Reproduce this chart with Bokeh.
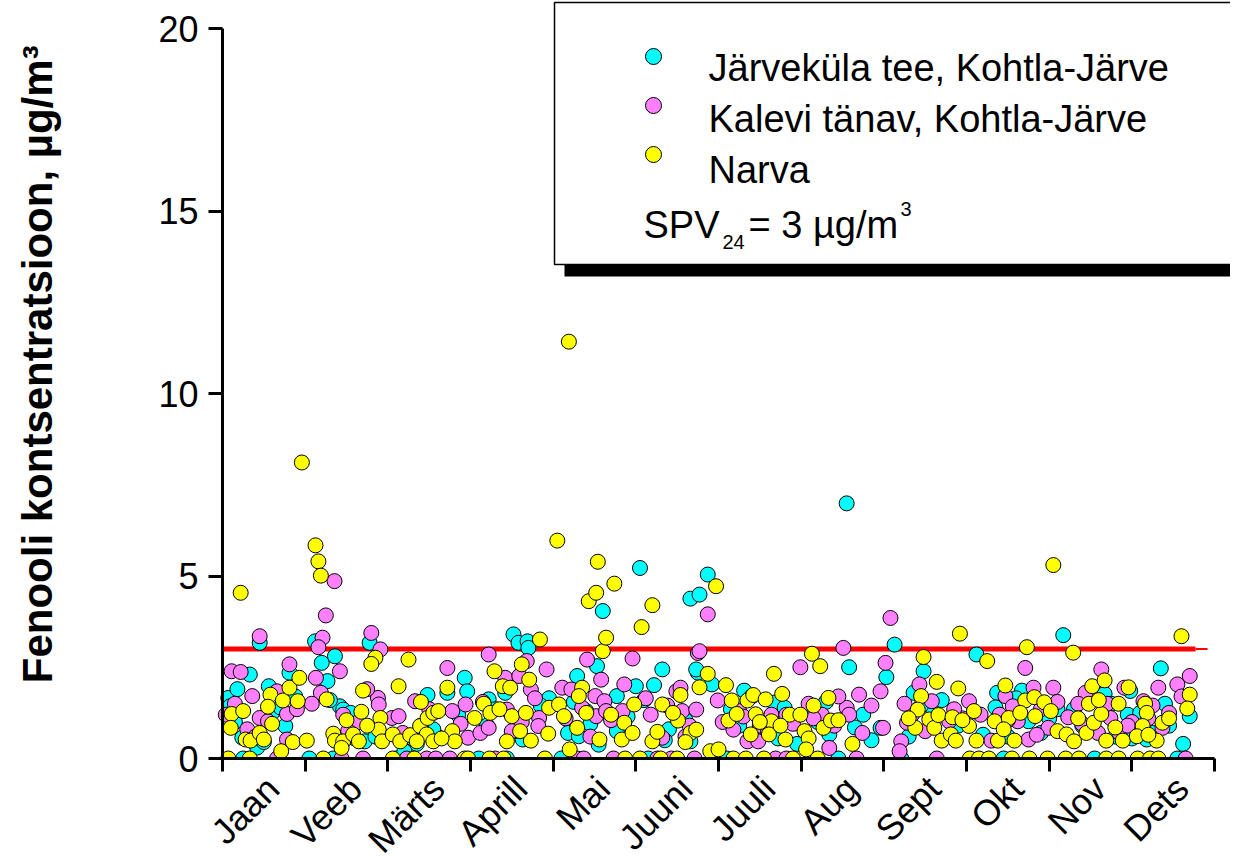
import math
from bokeh.plotting import figure
from bokeh.models import Range1d, FixedTicker, CustomJSTickFormatter
from bokeh.embed import file_html
from bokeh.resources import INLINE
from bokeh.core.properties import value

# ---------------- data ----------------
months = ["Jaan", "Veeb", "Märts", "Aprill", "Mai", "Juuni",
          "Juuli", "Aug", "Sept", "Okt", "Nov", "Dets"]
y_ticks = [0, 5, 10, 15, 20]
spv_limit = 3
series_names = ["Järveküla tee, Kohtla-Järve", "Kalevi tänav, Kohtla-Järve", "Narva"]

# time position in months (0 = start of January), concentration in µg/m3
jarv_t = [0.33, 0.07, 0.09, 0.24, 0.56, 0.76, 0.81, 0.45, 0.25, 0.6, 0.15, 0.42, 0.7, 0.18, 0.5, 0.88,
          1.12, 1.36, 1.2, 1.27, 1.42, 1.46, 1.72, 1.78, 1.34, 1.6, 1.05, 1.3, 1.55, 1.85,
          2.48, 2.35, 2.72, 2.93, 2.96, 2.2, 2.6, 2.1, 2.3, 2.55, 2.85,
          3.22, 3.42, 3.52, 3.58, 3.69, 3.7, 3.63, 3.95, 3.44, 3.2, 3.1, 3.3, 3.55, 3.85,
          4.18, 4.31, 4.29, 4.53, 4.6, 4.55, 4.77, 4.77, 5.0, 4.4, 4.1, 4.25, 4.45, 4.9,
          5.05, 5.32, 5.22, 5.49, 5.66, 5.66, 5.77, 5.87, 5.75, 5.73, 5.92, 5.15, 5.4, 5.1, 5.35, 5.6,
          6.31, 6.67, 6.59, 6.8, 6.25, 6.45, 6.1, 6.95, 6.15, 6.4, 6.72,
          7.34, 7.58, 7.75, 7.55, 7.45, 7.96, 7.2, 7.65, 7.1, 7.3, 7.85,
          8.03, 8.13, 8.36, 8.48, 8.21, 9.12, 8.6, 8.9, 8.3, 8.45, 8.7, 9.2,
          9.37, 9.67, 9.75, 10.17, 10.1, 9.5, 9.9, 9.45, 9.35, 9.6, 10.0,
          10.67, 10.95, 10.55, 10.4, 10.8, 11.0, 10.3, 10.75, 10.98,
          11.18, 11.35, 11.7, 11.55, 11.25, 11.45, 11.1, 11.4, 11.62]
jarv_v = [2.3, 1.66, 1.43, 0.57, 1.98, 0.89, 2.35, 3.17, 0, 1.25, 1.0, 0.3, 1.4, 1.9, 0.45, 1.7,
          3.21, 2.8, 2.62, 2.12, 1.43, 1.34, 0.47, 3.17, 0, 0.55, 0, 1.6, 1.25, 0.6,
          1.74, 0.4, 1.8, 2.21, 1.84, 0.2, 0.6, 0, 0.55, 0.8, 1.2,
          1.62, 1.8, 3.4, 3.17, 3.21, 3.03, 0.52, 1.65, 0, 0.9, 0, 1.35, 0.75, 1.45,
          0.7, 0.61, 2.26, 2.53, 4.04, 0.38, 1.71, 0.75, 1.98, 1.3, 0, 1.55, 0.95, 1.15,
          5.22, 2.44, 2.01, 1.2, 0.47, 4.38, 4.49, 5.04, 2.35, 2.44, 2.03, 0, 0.8, 1.6, 0.5, 1.05,
          1.86, 1.53, 0.89, 1.39, 0.9, 0.6, 0, 0.4, 1.35, 1.7, 0.55,
          0.66, 2.5, 1.2, 6.99, 0, 0.84, 1.0, 0.85, 1.3, 1.55, 0.5,
          2.23, 3.12, 1.8, 2.39, 0, 2.85, 1.3, 0.9, 0.6, 1.45, 1.6, 0.65,
          1.8, 1.86, 1.02, 3.38, 1.35, 0.6, 0.7, 0, 1.4, 1.65, 1.1,
          1.77, 1.2, 0, 0.9, 0.6, 0.55, 1.35, 1.5, 1.85,
          0.52, 2.47, 1.16, 0, 0.7, 0.9, 1.25, 1.5, 0.4]

kalevi_t = [0.11, 0.22, 0.04, 0.36, 0.45, 0.55, 0.66, 0.78, 0.78, 0.81, 0.45, 0.66, 0.3, 0.15, 0.4, 0.9,
            1.21, 1.16, 1.42, 1.13, 1.19, 1.46, 1.63, 1.8, 1.91, 1.88, 1.89, 1.355, 1.25, 1.44, 1.7, 1.08, 1.52, 1.75,
            2.05, 2.13, 2.33, 2.72, 2.78, 2.94, 2.97, 2.23, 2.47, 2.58, 2.75, 2.4, 2.18, 2.5, 2.88,
            3.12, 3.22, 3.22, 3.42, 3.44, 3.5, 3.68, 3.59, 3.73, 3.83, 3.92, 3.82, 3.3, 3.15, 3.62, 3.78,
            4.11, 4.22, 4.35, 4.41, 4.58, 4.51, 4.62, 4.52, 4.64, 4.86, 4.84, 4.96, 4.29, 4.37, 4.73, 4.15, 4.45, 4.7,
            5.18, 5.32, 5.49, 5.56, 5.75, 5.77, 5.54, 5.73, 5.87, 5.26, 5.43, 5.71, 5.6, 5.12, 5.38, 5.65,
            5.99, 6.18, 6.35, 6.48, 6.64, 6.82, 6.25, 6.69, 6.82, 6.5, 6.05, 6.3, 6.6, 6.9,
            6.99, 7.09, 7.25, 7.34, 7.51, 7.55, 7.58, 7.7, 7.74, 7.67, 7.4, 7.15, 7.45, 7.85,
            7.99, 7.96, 8.02, 8.08, 8.28, 8.21, 8.19, 8.43, 8.34, 8.58, 8.79, 9.03, 9.17, 8.64, 8.95, 8.25, 8.5, 8.85,
            9.3, 9.47, 9.56, 9.62, 9.71, 9.81, 9.75, 10.05, 9.99, 9.4, 9.9, 9.5, 9.85, 10.1,
            10.23, 10.44, 10.63, 10.59, 10.74, 10.91, 10.85, 10.35, 11.0, 10.4, 10.7, 10.95,
            11.14, 11.37, 11.32, 11.55, 11.7, 11.65, 11.2, 11.25, 11.45, 11.6]
kalevi_v = [2.39, 2.37, 1.2, 1.71, 1.11, 1.02, 1.84, 1.22, 0.52, 2.58, 3.35, 0, 0.8, 1.5, 0.6, 1.35,
            3.31, 3.05, 2.39, 2.21, 1.8, 1.2, 0.98, 3.44, 2.99, 1.66, 1.48, 4.86, 3.92, 0, 0, 1.5, 0.75, 1.9,
            1.11, 1.16, 1.57, 2.48, 1.3, 1.48, 0.57, 0, 0, 0, 0, 0.9, 0.7, 1.35, 0.95,
            0.7, 2.85, 0.84, 2.21, 1.34, 0.75, 2.67, 2.26, 1.89, 1.11, 2.44, 0.89, 0, 1.55, 1.0, 1.65,
            1.94, 1.89, 1.39, 2.71, 2.16, 1.71, 1.57, 1.16, 1.3, 2.03, 1.3, 2.74, 0, 0, 0, 1.1, 0.6, 1.05,
            1.2, 0.57, 1.84, 1.3, 2.89, 2.94, 1.94, 1.34, 3.95, 0, 0, 0, 0.6, 1.65, 1.45, 0.9,
            1.59, 0.79, 0.47, 0.47, 1.2, 1.2, 1.3, 0, 0, 0.9, 1.0, 1.15, 0.75, 0.95,
            2.5, 1.5, 1.2, 0.29, 3.03, 1.39, 1.2, 1.75, 0.7, 0, 0.9, 1.1, 1.7, 1.45,
            0.84, 1.84, 2.62, 3.85, 0.98, 0.47, 0.2, 2.03, 1.2, 1.57, 1.02, 1.57, 1.2, 0, 1.1, 1.5, 0.75, 1.35,
            0.49, 1.71, 1.43, 1.02, 2.48, 1.94, 0.52, 1.94, 0.84, 1.2, 1.35, 1.05, 0.65, 1.55,
            1.13, 1.8, 2.44, 0.7, 1.11, 1.94, 0.7, 1.5, 1.0, 0.95, 1.5, 0.9,
            1.57, 0.84, 1.94, 2.03, 2.26, 0, 1.1, 1.45, 1.25, 1.7]

narva_t = [0.22, 0.11, 0.25, 0.1, 0.28, 0.34, 0.58, 0.55, 0.45, 0.5, 0.73, 0.71, 0.81, 0.93, 0.91, 0.07, 0.33, 0.96, 0.6, 0.85,
           1.02, 1.125, 1.16, 1.19, 1.26, 1.68, 1.34, 1.36, 1.46, 1.44, 1.58, 1.65, 1.7, 1.85, 1.8, 1.91, 1.89, 1.93, 1.22, 1.5, 1.75,
           2.06, 2.15, 2.25, 2.13, 2.27, 2.39, 2.48, 2.55, 2.61, 2.47, 2.55, 2.35, 2.72, 2.78, 2.81, 2.06, 2.32, 2.93, 2.97, 2.4, 2.65,
           3.05, 3.16, 3.29, 3.24, 3.39, 3.48, 3.44, 3.84, 3.62, 3.71, 3.5, 3.67, 3.73, 3.95, 3.94, 3.23, 3.4, 3.9, 3.35, 3.6,
           4.07, 4.13, 4.29, 4.35, 4.31, 4.6, 4.64, 4.43, 4.52, 4.54, 4.74, 4.05, 4.19, 4.56, 4.86, 4.83, 4.98, 4.96, 4.2, 4.87, 4.4, 4.7,
           5.07, 5.2, 5.32, 5.2, 5.26, 5.54, 5.51, 5.66, 5.97, 5.87, 5.77, 5.73, 5.9, 6.0, 5.05, 5.3, 5.5, 5.45, 5.6,
           6.09, 6.16, 6.12, 6.22, 6.35, 6.42, 6.45, 6.39, 6.57, 6.67, 6.77, 6.64, 6.61, 6.81, 6.86, 6.99, 6.18, 6.33, 6.55, 6.9, 6.5, 6.75,
           7.13, 7.23, 7.33, 7.04, 7.09, 7.06, 7.27, 7.36, 7.2, 7.15, 7.45, 7.62,
           8.38, 8.45, 8.48, 8.41, 8.64, 8.55, 8.61, 8.66, 8.7, 8.83, 8.81, 8.87, 8.92, 8.9, 9.09, 9.03, 9.12, 9.25, 9.04, 8.3, 8.95,
           9.38, 9.34, 9.47, 9.51, 9.58, 9.71, 9.73, 9.82, 9.83, 9.94, 10.02, 10.05, 10.29, 9.15, 9.27, 9.55, 9.76, 9.98, 9.45, 9.65, 10.1,
           10.21, 10.3, 10.45, 10.52, 10.48, 10.54, 10.67, 10.63, 10.69, 10.84, 10.96, 10.89, 10.2, 10.36, 10.69, 10.84, 10.35, 10.6, 10.8,
           11.16, 11.18, 11.13, 11.06, 11.3, 11.37, 11.6, 11.7, 11.67, 11.07, 11.22, 11.32, 11.2, 11.45]
narva_v = [4.54, 1.22, 1.3, 0.84, 0.52, 0.49, 1.75, 1.42, 0.7, 0.52, 1.59, 0.2, 1.94, 2.21, 1.57, 0, 0, 8.11, 0.95, 0.45,
           0.49, 5.84, 5.4, 5.01, 1.62, 1.28, 0.68, 0.49, 0.47, 0.29, 0.66, 0.47, 1.86, 2.76, 2.59, 1.11, 0.79, 0.47, 0, 1.05, 0.9,
           0.66, 0.47, 2.71, 1.98, 0.64, 0.89, 1.11, 1.25, 1.3, 0.66, 0.47, 0.47, 1.94, 0.75, 0.47, 0, 0, 0, 0, 1.55, 0.55,
           1.11, 1.5, 2.39, 1.25, 1.98, 1.94, 0.47, 3.26, 2.58, 2.16, 1.16, 1.25, 0.49, 1.39, 0.68, 0, 0, 0, 1.35, 0.75,
           1.48, 1.16, 0.84, 1.94, 1.71, 2.94, 3.31, 4.31, 4.54, 5.39, 4.79, 5.97, 11.42, 0.52, 0.98, 0.52, 1.48, 0.7, 0.25, 0, 1.25, 1.2,
           3.6, 4.2, 1.48, 0.47, 0.73, 1.74, 1.04, 0.7, 4.72, 2.32, 1.95, 0.79, 0.2, 0.25, 0, 0, 0, 1.25, 0.45,
           2.01, 1.59, 1.04, 1.22, 1.59, 1.74, 1.21, 0.66, 1.62, 2.32, 1.77, 1.02, 0.66, 0.52, 1.2, 1.2, 0, 0, 0, 0, 1.0, 0.9,
           2.87, 2.53, 1.66, 0.75, 0.55, 0.25, 0.84, 1.04, 0, 1.45, 1.05, 0.4,
           0.84, 1.71, 2.78, 1.34, 2.1, 1.07, 0.84, 1.19, 0.49, 1.13, 0.66, 0.49, 3.42, 1.92, 1.3, 0.89, 0.49, 2.67, 0, 1.1, 1.05,
           0.49, 1.02, 2.0, 1.11, 0.49, 1.59, 3.05, 1.68, 1.16, 1.54, 1.3, 5.3, 2.9, 0, 0, 0, 0, 0, 0.8, 1.25, 0.75,
           0.66, 0.47, 0.7, 1.98, 1.5, 0.98, 2.14, 1.22, 0.49, 1.5, 1.95, 0.49, 0, 0, 0, 0, 1.1, 1.6, 0.85,
           1.5, 1.25, 0.89, 0.61, 0.49, 0.98, 3.35, 1.75, 1.37, 0, 0, 0, 0.65, 1.1]

colors = ["#00FFFF", "#FF80FF", "#FFFF00"]

# ---------------- layout ----------------
W, H = 1230, 860
AX = 222          # pixel column of the value axis (month 0)
Y0 = 758          # pixel row of value 0
PX_M = 82.67      # px per month
PX_V = 36.5       # px per µg/m3
FONT = "Liberation Sans"


def X(px):  # page px -> month units
    return (px - AX) / PX_M


def Y(py):  # page px -> value units
    return (Y0 - py) / PX_V


p = figure(width=W, height=H, output_backend="svg", toolbar_location=None,
           x_range=Range1d(X(0), X(W)), y_range=Range1d(Y(H), Y(0)),
           min_border_left=0, min_border_right=0, min_border_top=0,
           min_border_bottom=0, background_fill_color="white",
           border_fill_color="white")
p.outline_line_color = None
p.grid.visible = False

# x axis drawn at value 0: month-boundary ticks (minor), month names (major, no tick mark)
label_shift = X(AX + 9)
xa = p.xaxis[0]
xa.fixed_location = 0
xa.ticker = FixedTicker(ticks=[i + 0.5 + label_shift for i in range(12)],
                        minor_ticks=list(range(13)))
xa.formatter = CustomJSTickFormatter(args=dict(labels=months),
                                     code="return labels[Math.floor(tick)];")
xa.bounds = (0, 12)
xa.axis_line_width = 3
xa.axis_line_color = "black"
xa.major_tick_out = 0
xa.major_tick_in = 0
xa.minor_tick_out = 13
xa.minor_tick_in = 0
xa.minor_tick_line_width = 3
xa.minor_tick_line_color = "black"
xa.major_label_orientation = math.pi / 4
xa.major_label_text_font = FONT
xa.major_label_text_font_size = "36px"
xa.major_label_text_color = "black"
xa.major_label_standoff = 11

# y axis drawn at month 0
ya = p.yaxis[0]
ya.fixed_location = 0
ya.ticker = FixedTicker(ticks=y_ticks)
ya.bounds = (0, 20)
ya.axis_line_width = 3
ya.axis_line_color = "black"
ya.major_tick_out = 14
ya.major_tick_in = 0
ya.major_tick_line_width = 3
ya.major_tick_line_color = "black"
ya.minor_tick_line_color = None
ya.major_label_text_font = FONT
ya.major_label_text_font_size = "36px"
ya.major_label_text_color = "black"
ya.major_label_standoff = 10
ya.axis_label = "\u00a0" * 5 + "Fenooli kontsentratsioon, µg/m³"
ya.axis_label_text_font = FONT
ya.axis_label_text_font_size = "42px"
ya.axis_label_text_font_style = "bold"
ya.axis_label_text_color = "black"
ya.axis_label_standoff = 94

# limit line
p.line([0, X(1195)], [spv_limit, spv_limit], line_color="#FF0000", line_width=5)
p.line([X(1195), X(1207)], [spv_limit, spv_limit], line_color="#FF0000", line_width=2)

# points: values above zero as circles, zero values as circles cut by the axis
for t, v, c in [(jarv_t, jarv_v, colors[0]), (kalevi_t, kalevi_v, colors[1]),
                (narva_t, narva_v, colors[2])]:
    tz = [a for a, b in zip(t, v) if b <= 0]
    vz = [b for a, b in zip(t, v) if b <= 0]
    tp = [a for a, b in zip(t, v) if b > 0]
    vp = [b for a, b in zip(t, v) if b > 0]
    p.wedge(tz, vz, radius=7.5, radius_units="screen", start_angle=0, end_angle=math.pi,
            fill_color=c, line_color="black", line_width=1)
    p.scatter(tp, vp, size=15, fill_color=c, line_color="black", line_width=1)

# legend box with shadow
p.quad(left=[X(564)], right=[X(1300)], bottom=[Y(276)], top=[Y(250)],
       fill_color="black", line_color=None)
p.quad(left=[X(554)], right=[X(1300)], bottom=[Y(264)], top=[Y(2)],
       fill_color="white", line_color="black", line_width=1.5)

p.scatter([X(653)] * 3, [Y(56), Y(105), Y(154)], size=16, fill_color=colors,
          line_color="black", line_width=1)
p.text(x=[X(708)] * 3, y=[Y(67), Y(118), Y(169)], text=series_names,
       text_font=value(FONT), text_font_size="38px", text_baseline="alphabetic",
       text_align="left", text_color="black")
p.text(x=[X(643)], y=[Y(224)], text=["SPV"], text_font=value(FONT),
       text_font_size="38px", text_baseline="alphabetic", text_color="black")
p.text(x=[X(722)], y=[Y(241)], text=["24"], text_font=value(FONT),
       text_font_size="20px", text_baseline="alphabetic", text_color="black")
p.text(x=[X(748)], y=[Y(224)], text=["= %d µg/m" % spv_limit], text_font=value(FONT),
       text_font_size="38px", text_baseline="alphabetic", text_color="black")
p.text(x=[X(900)], y=[Y(208)], text=["3"], text_font=value(FONT),
       text_font_size="20px", text_baseline="alphabetic", text_color="black")

open("out.html", "w").write(file_html(p, INLINE))
